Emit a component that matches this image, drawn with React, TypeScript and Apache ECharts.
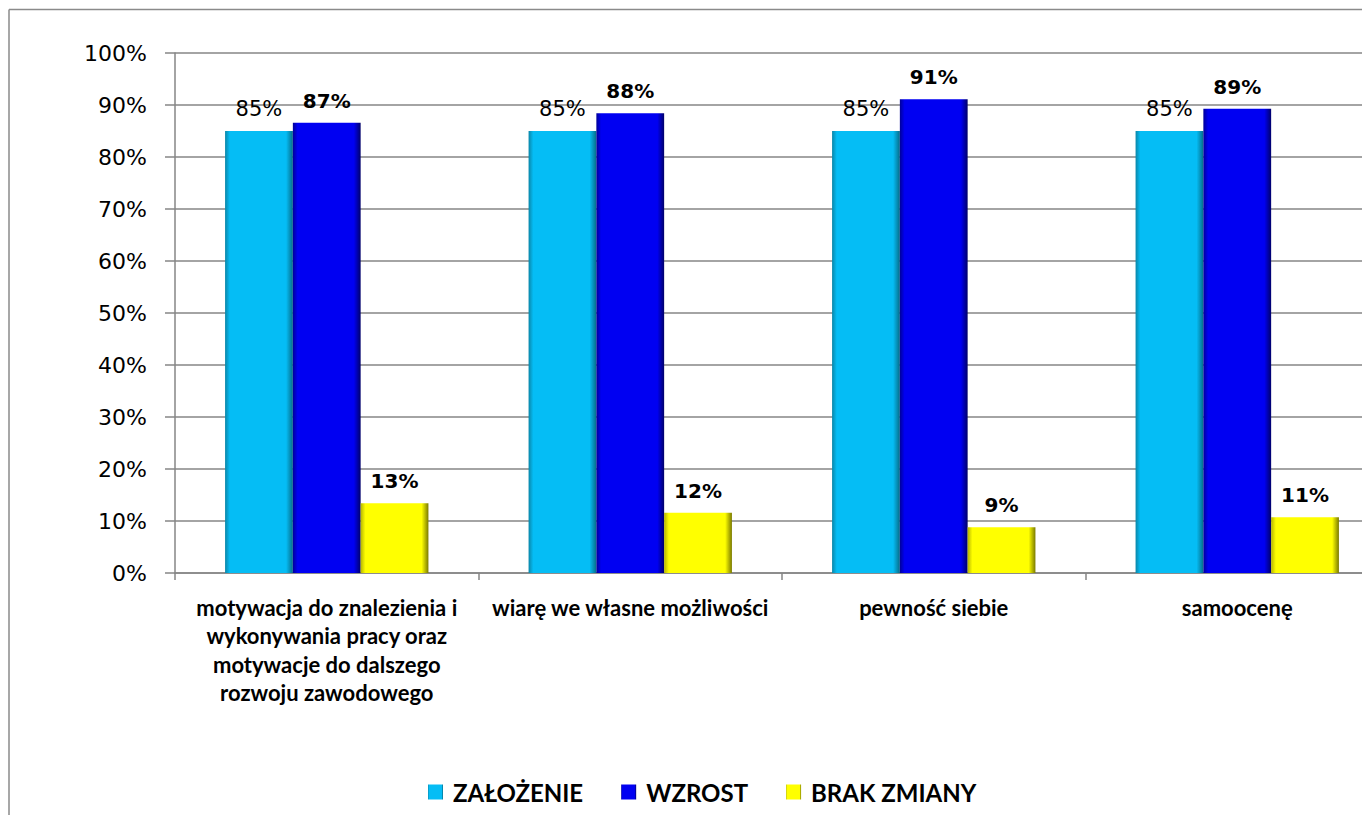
import React, { useEffect, useRef } from "react";
import * as echarts from "echarts";

const categories = [
  "motywacja do znalezienia i\nwykonywania pracy oraz\nmotywacje do dalszego\nrozwoju zawodowego",
  "wiarę we własne możliwości",
  "pewność siebie",
  "samoocenę",
];
const seriesNames = ["ZAŁOŻENIE", "WZROST", "BRAK ZMIANY"];
const zalozenie = [85, 85, 85, 85];
const wzrost = [86.6, 88.4, 91.1, 89.3];
const brakZmiany = [13.4, 11.6, 8.8, 10.7];
const yTicks = { min: 0, max: 100, interval: 10 };

const grad = (edgeL: string, main: string, edgeR: string) =>
  new echarts.graphic.LinearGradient(0, 0, 1, 0, [
    { offset: 0, color: edgeL },
    { offset: 0.07, color: main },
    { offset: 0.9, color: main },
    { offset: 1, color: edgeR },
  ]);

export default function App() {
  const ref = useRef<HTMLDivElement>(null);
  useEffect(() => {
    if (!ref.current) return;
    const chart = echarts.init(ref.current, null, { renderer: "svg" });
    const labelBase = {
      show: true,
      position: "top" as const,
      distance: 12,
      color: "#000",
      fontFamily: "DejaVu Sans",
      formatter: (p: any) => Math.round(p.value) + "%",
    };
    const colors = [
      grad("#0a86a8", "#05bdf5", "#066c88"),
      grad("#00009a", "#0000f2", "#00006a"),
      grad("#b5b500", "#ffff00", "#7a7a00"),
    ];
    const data = [zalozenie, wzrost, brakZmiany];
    chart.setOption({
      animation: false,
      grid: { left: 167, top: 45, width: 1214, height: 520, containLabel: false },
      legend: {
        left: 415,
        top: 767,
        itemWidth: 15,
        itemHeight: 15,
        itemGap: 38,
        icon: "rect",
        textStyle: {
          fontFamily: "Lato",
          fontWeight: "bold",
          fontSize: 24,
          color: "#000",
          padding: [0, 0, 0, 5],
        },
        data: seriesNames,
      },
      xAxis: {
        type: "category",
        data: categories,
        axisLine: { lineStyle: { color: "#868686", width: 1.5 } },
        axisTick: { show: true, length: 7, lineStyle: { color: "#868686", width: 1.5 } },
        axisLabel: {
          interval: 0,
          margin: 20,
          color: "#000",
          fontFamily: "Lato",
          fontWeight: "bold",
          fontSize: 22,
          lineHeight: 28.5,
          align: "center",
        },
      },
      yAxis: {
        type: "value",
        min: yTicks.min,
        max: yTicks.max,
        interval: yTicks.interval,
        axisLine: { show: true, lineStyle: { color: "#868686", width: 1.5 } },
        axisTick: { show: true, length: 10, lineStyle: { color: "#868686", width: 1.5 } },
        splitLine: { lineStyle: { color: "#868686", width: 1.5 } },
        axisLabel: {
          margin: 28,
          color: "#000",
          fontFamily: "DejaVu Sans",
          fontSize: 22,
          formatter: "{value}%",
        },
      },
      graphic: [
        { type: "line", shape: { x1: 1, y1: 1.5, x2: 1, y2: 900 }, style: { stroke: "#8a8a8a", lineWidth: 1.5 } },
        { type: "line", shape: { x1: 1, y1: 1.5, x2: 1500, y2: 1.5 }, style: { stroke: "#8a8a8a", lineWidth: 1.5 } },
      ],
      series: seriesNames.map((name, i) => ({
        name,
        type: "bar",
        data: data[i],
        barGap: "0%",
        barCategoryGap: "33%",
        itemStyle: { color: colors[i] },
        label:
          i === 0
            ? { ...labelBase, fontSize: 21, fontWeight: "normal" }
            : { ...labelBase, fontSize: 20, fontWeight: "bold" },
      })),
    });
    return () => chart.dispose();
  }, []);
  return (
    <div style={{ width: 1362, height: 807, overflow: "hidden", position: "relative" }}>
      <div ref={ref} style={{ width: 1420, height: 807 }} />
    </div>
  );
}
